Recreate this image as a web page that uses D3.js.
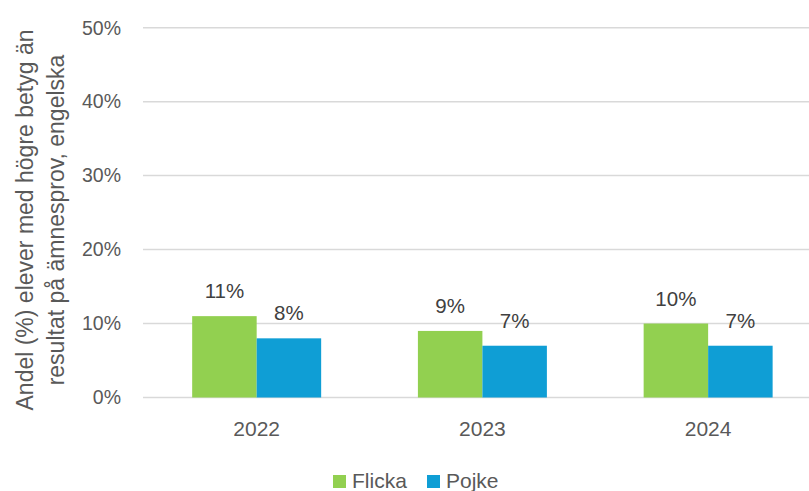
<!DOCTYPE html>
<html><head><meta charset="utf-8">
<script src="https://cdn.jsdelivr.net/npm/d3@7"></script>
<style>body{margin:0;background:#fff}svg{display:block}text{font-family:"Liberation Sans",Arial,sans-serif}</style>
</head><body>
<script>
const categories = ["2022","2023","2024"];
const seriesNames = ["Flicka","Pojke"];
const flicka = [11, 9, 10];
const pojke = [8, 7, 7];
const yTicks = [0,10,20,30,40,50];
const colors = ["#92d050","#0f9ed5"];

const W=809,H=491;
const svg=d3.select("body").append("svg").attr("width",W).attr("height",H);
const x=d3.scaleBand().domain(categories).range([143.8,821]).paddingInner(0.4286).paddingOuter(0.2143);
const x1=d3.scaleBand().domain(seriesNames).range([0,x.bandwidth()]);
const y=d3.scaleLinear().domain([0,50]).range([397.5,27.7]);

svg.append("g").selectAll("line").data(yTicks).join("line")
 .attr("x1",143).attr("x2",W).attr("y1",d=>y(d)).attr("y2",d=>y(d))
 .attr("stroke","#d9d9d9").attr("stroke-width",1.5);
svg.append("g").selectAll("text").data(yTicks).join("text")
 .attr("x",121).attr("y",d=>y(d)).attr("dy","0.35em").attr("text-anchor","end")
 .attr("font-size",19.5).attr("fill","#595959").text(d=>d+"%");

const data=categories.map((c,i)=>({c,vals:[flicka[i],pojke[i]]}));
const g=svg.append("g").selectAll("g").data(data).join("g").attr("transform",d=>`translate(${x(d.c)},0)`);
g.selectAll("rect").data(d=>d.vals.map((v,j)=>({v,s:seriesNames[j],j}))).join("rect")
 .attr("x",d=>x1(d.s)).attr("width",x1.bandwidth()).attr("y",d=>y(d.v)).attr("height",d=>y(0)-y(d.v))
 .attr("fill",d=>colors[d.j]);
g.selectAll("text").data(d=>d.vals.map((v,j)=>({v,s:seriesNames[j],j}))).join("text")
 .attr("x",d=>x1(d.s)+x1.bandwidth()/2).attr("y",d=>y(d.v)-18).attr("text-anchor","middle")
 .attr("font-size",20.5).attr("fill","#404040").text(d=>d.v+"%");

svg.append("g").selectAll("text").data(categories).join("text")
 .attr("x",d=>x(d)+x.bandwidth()/2).attr("y",436).attr("text-anchor","middle")
 .attr("font-size",21).attr("fill","#595959").text(d=>d);

const tt=svg.append("text").attr("transform","translate(0,220) rotate(-90)").attr("text-anchor","middle")
 .attr("font-size",23).attr("fill","#595959");
tt.append("tspan").attr("x",0).attr("y",33).text("Andel (%) elever med högre betyg än");
tt.append("tspan").attr("x",0).attr("y",64).text("resultat på ämnesprov, engelska");

const legX=[333,427];
const lg=svg.append("g").selectAll("g").data(seriesNames).join("g").attr("transform",(d,i)=>`translate(${legX[i]},475)`);
lg.append("rect").attr("width",13).attr("height",13).attr("fill",(d,i)=>colors[i]);
lg.append("text").attr("x",19).attr("y",13).attr("font-size",21).attr("fill","#595959").text(d=>d);
</script>
</body></html>
